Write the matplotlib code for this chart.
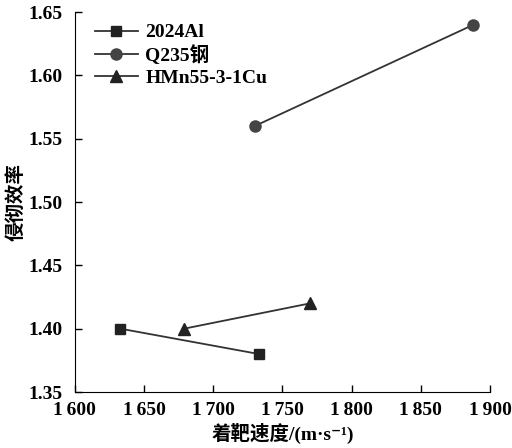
import numpy as np
import matplotlib.pyplot as plt

# data
al_v = [1633, 1733]
al_eff = [1.40, 1.38]
q235_v = [1730, 1888]
q235_eff = [1.56, 1.64]
hmn_v = [1679, 1770]
hmn_eff = [1.40, 1.42]

xticks = [1600, 1650, 1700, 1750, 1800, 1850, 1900]
xticklabels = ['1\u2009600', '1\u2009650', '1\u2009700', '1\u2009750', '1\u2009800', '1\u2009850', '1\u2009900']
yticks = [1.35, 1.40, 1.45, 1.50, 1.55, 1.60, 1.65]

plt.rcParams['font.family'] = ['Liberation Serif', 'Noto Sans CJK SC', 'DejaVu Sans']
plt.rcParams['font.weight'] = 'bold'

fig = plt.figure(figsize=(5.12, 4.48), dpi=100)
ax = fig.add_axes([0.146, 0.125, 0.811, 0.848])

lc = '#333333'
ax.plot(al_v, al_eff, color=lc, lw=1.3, marker='s', ms=7, mfc='#222222', mec='#222222', label='2024Al')
ax.plot(q235_v, q235_eff, color=lc, lw=1.3, marker='o', ms=8, mfc='#444444', mec='#444444', label='Q235钢')
ax.plot(hmn_v, hmn_eff, color=lc, lw=1.3, marker='^', ms=8, mfc='#222222', mec='#222222', label='HMn55-3-1Cu')

ax.set_xlim(1600, 1900)
ax.set_ylim(1.35, 1.65)
ax.set_xticks(xticks)
ax.set_xticklabels(xticklabels)
ax.set_yticks(yticks)
ax.set_yticklabels(['%.2f' % v for v in yticks])
ax.tick_params(direction='in', length=5, labelsize=14, width=1)
ax.tick_params(axis='x', pad=7)
ax.tick_params(axis='y', pad=9)
ax.spines['top'].set_visible(False)
ax.spines['right'].set_visible(False)

ax.set_xlabel('着靶速度/(m·s\u207b\u00b9)', fontsize=14, fontweight='bold', labelpad=3)
ax.set_ylabel('侵彻效率', fontsize=14, fontweight='bold', labelpad=2)

ax.legend(loc='upper left', bbox_to_anchor=(0.02, 1.0), frameon=False, fontsize=14,
          handlelength=2.2, borderaxespad=0.2, labelspacing=0.2, handletextpad=0.4)

plt.savefig('out.png', dpi=100)
